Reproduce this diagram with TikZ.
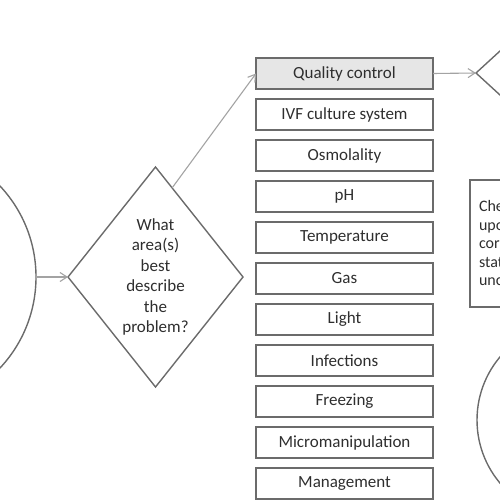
\documentclass[tikz,border=0pt]{standalone}
\usepackage{fontspec}
\setmainfont{Carlito}
\usetikzlibrary{positioning,arrows.meta,shapes.geometric,calc}
\definecolor{borde}{HTML}{6B6B6B}
\definecolor{flecha}{HTML}{A3A3A3}
\definecolor{texto}{HTML}{2E2E2E}
\definecolor{relleno}{HTML}{E6E6E6}

\begin{document}
\begin{tikzpicture}[x=1pt, y=-1pt, font=\fontsize{17}{20.5}\selectfont, text=texto,
      >={Straight Barb[length=7pt,width=9pt]},
      area/.style={draw=borde, line width=1.4pt, minimum width=177pt, minimum height=31pt,
                   inner sep=0pt, outer sep=0pt},
      forma/.style={draw=borde, line width=1.4pt, inner sep=0pt, outer sep=0pt},
      flujo/.style={->, draw=flecha, line width=1.1pt}]
    \useasboundingbox (0,0) rectangle (500,500);
    \clip (0,0) rectangle (500,500);
    \node[forma, circle, minimum size=266pt] (inicio) at (-97,277) {};
    \node[forma, diamond, aspect=0.8, minimum width=175pt, minimum height=220pt, align=center]
      (pregunta) at (155.5,277) {What\\area(s)\\best\\describe\\the\\problem?};
    \node[area, fill=relleno] (qc) at (344.5,73.5) {Quality control};
    \node[area, below=10pt of qc] (ivf) {IVF culture system};
    \node[area, below=10pt of ivf] (osm) {Osmolality};
    \node[area, below=10pt of osm] (ph) {pH};
    \node[area, below=10pt of ph] (temp) {Temperature};
    \node[area, below=10pt of temp] (gas) {Gas};
    \node[area, below=10pt of gas] (luz) {Light};
    \node[area, below=10pt of luz] (inf) {Infections};
    \node[area, below=10pt of inf] (frz) {Freezing};
    \node[area, below=10pt of frz] (micro) {Micromanipulation};
    \node[area, below=10pt of micro] (mgmt) {Management};
    \node[forma, diamond, minimum width=120pt, minimum height=110pt] (control) at (536,73) {};
    \node[forma, anchor=north west, minimum height=127pt, text width=120pt, align=left,
          inner xsep=9pt, font=\fontsize{16}{18.5}\selectfont] (nota) at (470,180)
      {Check\\upon\\correct\\statistics\\uncertain};
    \node[forma, circle, minimum size=196pt] (fin) at (575,420) {};
    \draw[flujo] (inicio.east) -- (pregunta.west);
    \draw[flujo] ($(pregunta.north)!0.19!(pregunta.east)$) -- (qc.west);
    \draw[flujo] (qc.east) -- (control.west);
  \end{tikzpicture}
\end{document}
